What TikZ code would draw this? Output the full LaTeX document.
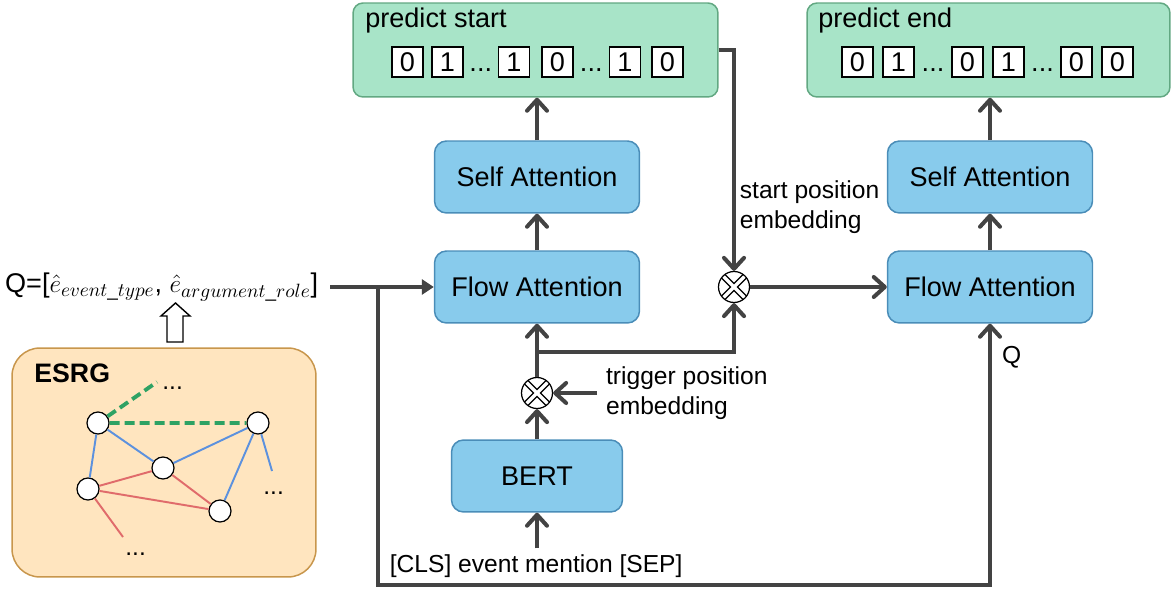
\documentclass[tikz,border=0pt]{standalone}
\usepackage{amsmath}
\usepackage{fontspec}
\setmainfont{Liberation Sans}
\usepackage{tikz}
\usetikzlibrary{calc}
\usetikzlibrary{arrows.meta, positioning}

\definecolor{attnblue}{HTML}{88CBEC}
\definecolor{attnedge}{HTML}{4A8DB8}
\definecolor{predgreen}{HTML}{A8E4C8}
\definecolor{prededge}{HTML}{62A882}
\definecolor{graphbg}{HTML}{FFE5BF}
\definecolor{graphedge}{HTML}{C8964C}
\definecolor{wire}{HTML}{434343}
\definecolor{relblue}{HTML}{5C91DE}
\definecolor{relred}{HTML}{E06B6B}
\definecolor{relgreen}{HTML}{2EA264}

\tikzset{
  attn/.style={draw=attnedge, fill=attnblue, line width=0.85pt, rounded corners=0.24cm,
    minimum width=4.1cm, minimum height=1.44cm, font=\fontsize{15.4}{18}\selectfont},
  predbox/.style={draw=prededge, fill=predgreen, line width=0.85pt, rounded corners=0.2cm,
    minimum height=1.88cm, inner sep=0pt},
  bit/.style={draw, fill=white, line width=0.8pt, minimum width=0.62cm, minimum height=0.6cm,
    inner sep=0pt, font=\fontsize{15.4}{18}\selectfont},
  bigtxt/.style={font=\fontsize{15.4}{18}\selectfont},
  note/.style={font=\fontsize{14}{17}\selectfont, align=left},
  flow/.style={draw=wire, line width=2.3pt, -{Straight Barb[length=0.22cm, width=0.4cm, round]}},
  qflow/.style={draw=wire, line width=2.3pt, -{Triangle[length=0.24cm, width=0.3cm]}},
  mult/.style={circle, draw, fill=white, line width=0.7pt, minimum size=0.62cm, inner sep=0pt,
    path picture={
      \draw[black, line width=3.6pt]
        (path picture bounding box.north west) -- (path picture bounding box.south east)
        (path picture bounding box.north east) -- (path picture bounding box.south west);
      \draw[white, line width=1.9pt]
        (path picture bounding box.north west) -- (path picture bounding box.south east)
        (path picture bounding box.north east) -- (path picture bounding box.south west);
    }},
  gnode/.style={circle, draw, fill=white, line width=0.7pt, minimum size=0.44cm, inner sep=0pt},
  rel/.style={line width=1.1pt},
}

\begin{document}
\begin{tikzpicture}[x=0.02cm, y=-0.02cm, line join=miter]
    \useasboundingbox (0,0) rectangle (1172,590);

    % output boxes
    \node[predbox, minimum width=7.3cm] (predS) at (535.5,50) {};
    \node[bigtxt, anchor=base west, inner sep=0pt] at (365,28) {predict start};
    \node[predbox, minimum width=7.26cm] (predE) at (988.5,50) {};
    \node[bigtxt, anchor=base west, inner sep=0pt] at (818,28) {predict end};

    % start / end labels
    \foreach \x/\b [count=\i] in {407.5/0, 447.5/1, 514/1, 557.5/0, 625/1, 667.5/0}
        \node[bit] (s\i) at (\x,62) {\b};
    \node[bigtxt, anchor=base, inner sep=0pt] at ($(s2.base)!0.5!(s3.base)$) {...};
    \node[bigtxt, anchor=base, inner sep=0pt] at ($(s4.base)!0.5!(s5.base)$) {...};
    \foreach \x/\b [count=\i] in {857.5/0, 898.5/1, 967.5/0, 1008.5/1, 1076.5/0, 1117.5/0}
        \node[bit] (e\i) at (\x,62) {\b};
    \node[bigtxt, anchor=base, inner sep=0pt] at ($(e2.base)!0.5!(e3.base)$) {...};
    \node[bigtxt, anchor=base, inner sep=0pt] at ($(e4.base)!0.5!(e5.base)$) {...};

    % attention blocks
    \node[attn] (selfL) at (537,177) {Self Attention};
    \node[attn] (flowL) at (537,287) {Flow Attention};
    \node[attn, minimum width=3.42cm] (bert) at (537,476) {BERT};
    \node[attn] (selfR) at (990,177) {Self Attention};
    \node[attn] (flowR) at (990,287) {Flow Attention};

    % position embeddings
    \node[mult] (mulT) at (537,393) {};
    \node[mult] (mulS) at (734,287) {};
    \node[note, anchor=west, inner xsep=5pt] (trig) at (597,393) {trigger position\\embedding};
    \node[note, anchor=west, inner xsep=2pt] (spos) at (736,207) {start position\\embedding};

    % inputs
    \node[note, anchor=west, inner xsep=2pt] (cls) at (386,566) {[CLS] event mention [SEP]};
    \node[bigtxt, anchor=east, inner xsep=6.5pt] (qlabel) at (330,287)
        {Q=[$\hat{e}_{event\_type}$, $\hat{e}_{argument\_role}$]};
    \node[note, anchor=west, inner sep=1pt] (qR) at (1000,357) {Q};

    % main flow
    \draw[flow] (bert.south |- cls.north) -- (bert.south);
    \draw[flow] (bert.north) -- (mulT.south);
    \draw[flow] (mulT.north) -- (flowL.south);
    \draw[flow] (flowL.north) -- (selfL.south);
    \draw[flow] (selfL.north) -- (selfL.north |- predS.south);
    \draw[flow] (trig.west) -- (mulT.east);

    % start position branch
    \coordinate (tap) at (537,352);
    \draw[flow] (tap) -| (mulS.south);
    \draw[flow] (predS.east) -| (mulS.north);
    \draw[flow] (mulS.east) -- (flowR.west);
    \draw[flow] (flowR.north) -- (selfR.south);
    \draw[flow] (selfR.north) -- (selfR.north |- predE.south);

    % query
    \draw[qflow] (qlabel.east) -- (flowL.west);
    \coordinate (qtap) at (378,287);
    \coordinate (qbot) at (378,585);
    \draw[flow] (qtap) -- (qbot) -| (flowR.south);

    % ESRG graph
    \node[draw=graphedge, fill=graphbg, line width=0.85pt, rounded corners=0.56cm,
          minimum width=6.08cm, minimum height=4.58cm] (esrg) at (164,462.5) {};
    \node[anchor=base west, inner sep=0pt, font=\fontsize{15.2}{17}\selectfont\bfseries] at (34,383) {ESRG};
    \draw[fill=white, line width=0.8pt] (167,342) -- (167,316) -- (161,316) -- (175.5,303)
        -- (190,316) -- (183,316) -- (183,342) -- cycle;

    \node[gnode] (n1) at (98,423) {};
    \node[gnode] (n2) at (258,423) {};
    \node[gnode] (n3) at (163,468) {};
    \node[gnode] (n4) at (88,489) {};
    \node[gnode] (n5) at (220,511) {};
    \coordinate (g1) at (157,382);
    \coordinate (b1) at (272,471);
    \coordinate (r1) at (123,537);

    \draw[rel, relgreen, line width=2.2pt, dash pattern=on 0.2cm off 0.1cm] (n1) -- (g1) (n1) -- (n2);
    \draw[rel, relblue] (n1) -- (n4) (n1) -- (n3) (n3) -- (n2) (n2) -- (n5) (n2) -- (b1);
    \draw[rel, relred] (n4) -- (n3) (n4) -- (n5) (n3) -- (n5) (n4) -- (r1);

    \node[note, anchor=base west, inner sep=0pt] at (162,390) {...};
    \node[note, anchor=base west, inner sep=0pt] at (263,495) {...};
    \node[note, anchor=base west, inner sep=0pt] at (125,555) {...};
\end{tikzpicture}
\end{document}
